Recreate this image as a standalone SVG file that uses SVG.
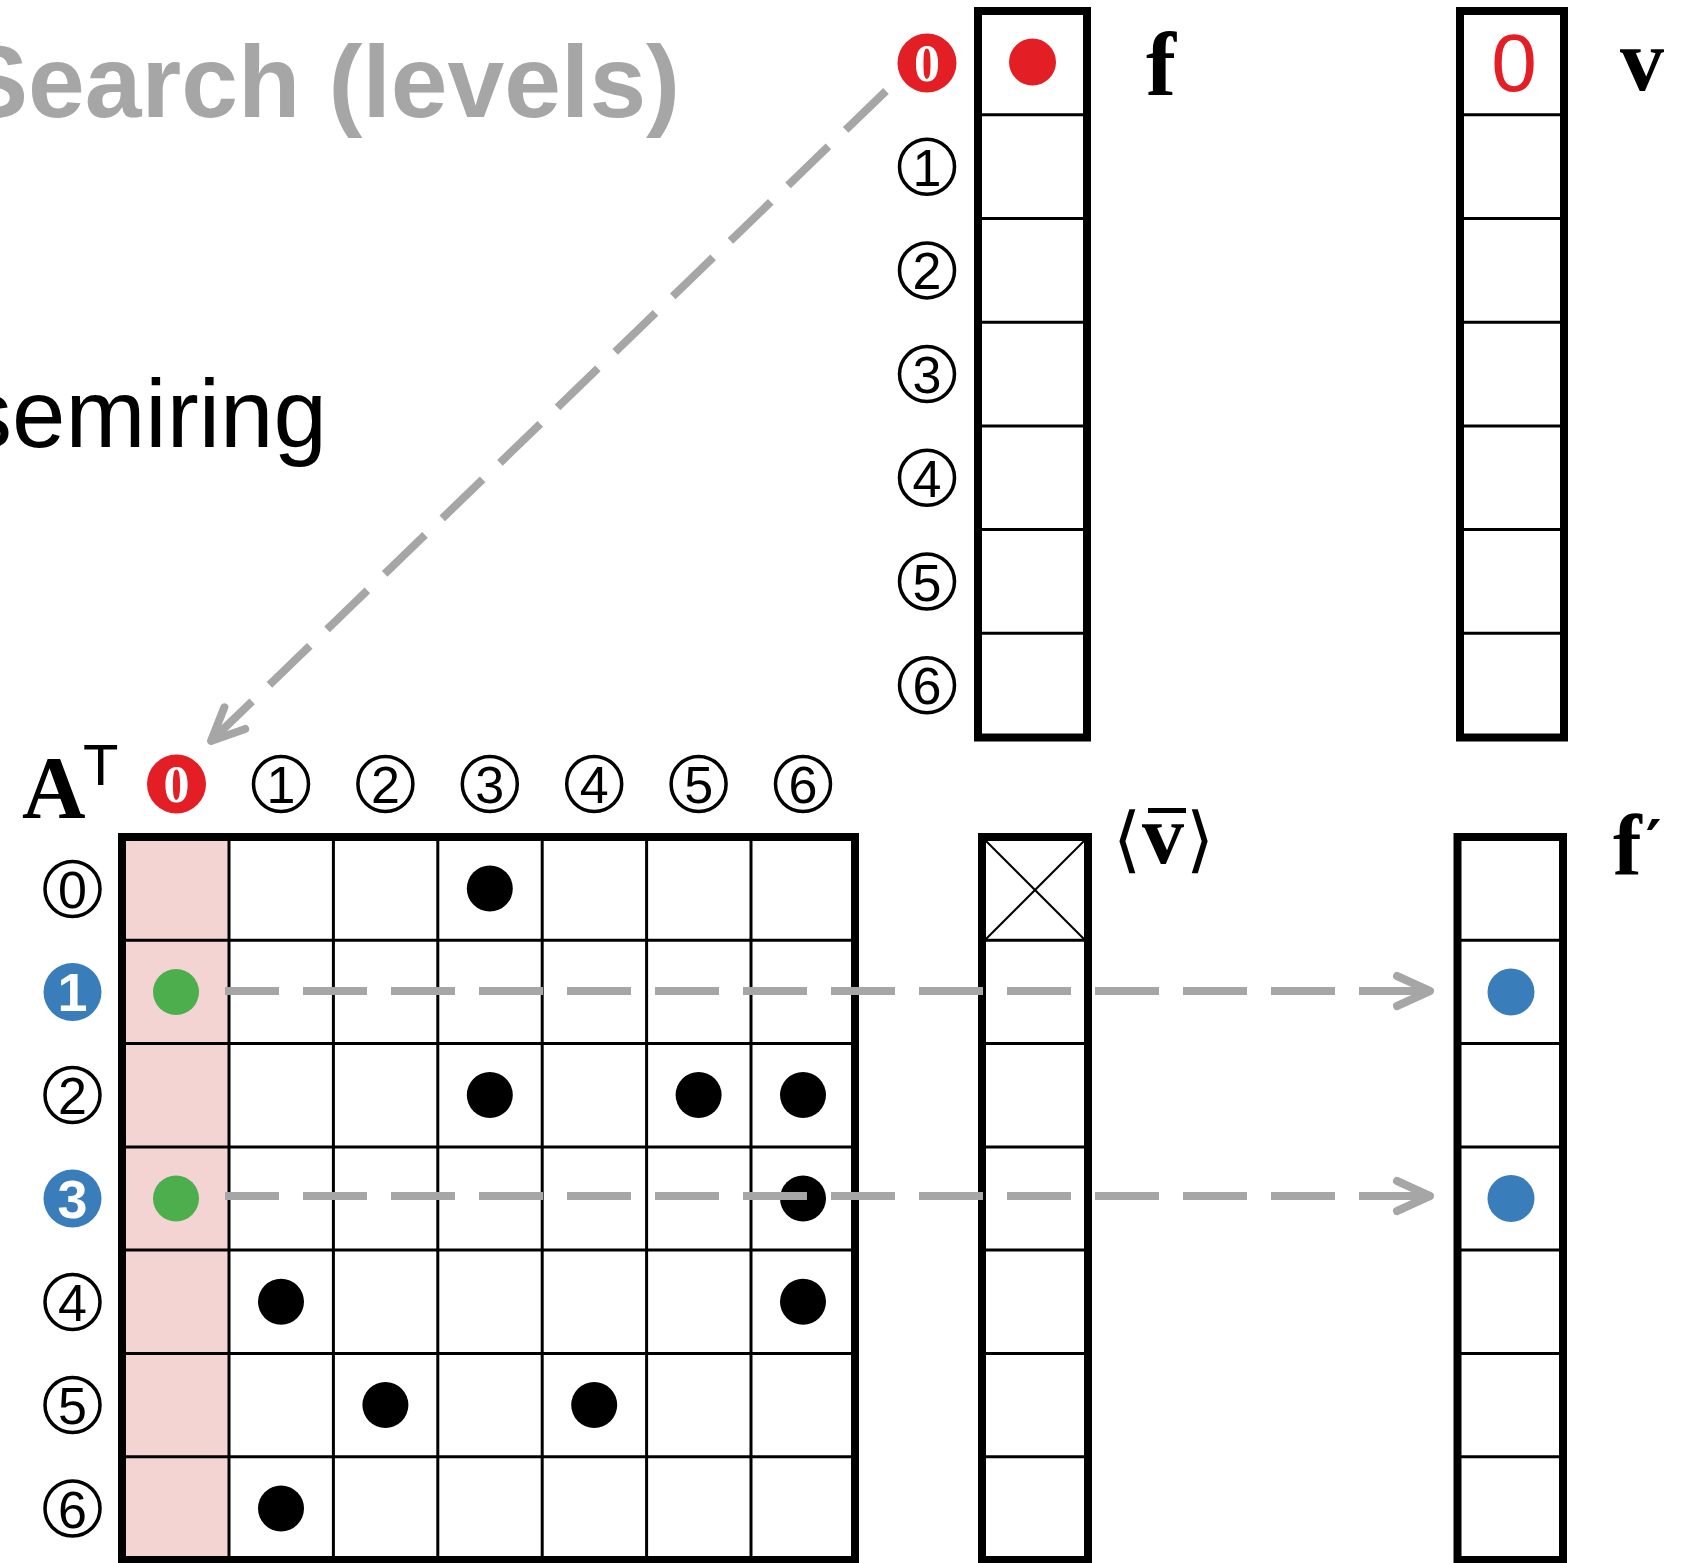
<svg xmlns="http://www.w3.org/2000/svg" width="1681" height="1563" viewBox="0 0 1681 1563">
<style>
.lbl circle{fill:#fff;stroke:#000;stroke-width:3.5}
.lbl text{font-family:"Liberation Sans",Arial,sans-serif;font-size:52px;fill:#000;text-anchor:middle}
.red circle{fill:#e31e24;stroke:none}
.red text{font-family:"Liberation Serif",serif;font-weight:bold;font-size:52px;fill:#fff;text-anchor:middle}
.blue circle{fill:#3a7dbb;stroke:none}
.blue text{font-family:"Liberation Sans",Arial,sans-serif;font-weight:bold;font-size:54px;fill:#fff;text-anchor:middle}
.box{fill:none;stroke:#000;stroke-width:8}
.div{stroke:#000;stroke-width:3}
.dot{fill:#000}
.math{font-family:"Liberation Serif","DejaVu Serif",serif;font-weight:bold;fill:#000}
.conn{fill:none;stroke:#a6a6a6;stroke-width:8}
</style>
<defs>
<marker id="chev" markerUnits="userSpaceOnUse" markerWidth="60" markerHeight="60" refX="0" refY="0" viewBox="-50 -30 60 60" orient="auto" overflow="visible">
<path d="M-33,-15 L0,0 L-33,15" fill="none" stroke="#a6a6a6" stroke-width="8" stroke-linecap="round" stroke-linejoin="round"/>
</marker>
</defs>
<rect width="1681" height="1563" fill="#fff"/>

<g id="title">
<text x="-40" y="117" font-family="Liberation Sans,Arial,sans-serif" font-weight="bold" font-size="102" fill="#a6a6a6">Search (levels)</text>
</g>
<g id="subtitle">
<text x="-36" y="447" font-family="Liberation Sans,Arial,sans-serif" font-size="96" fill="#000">semiring</text>
</g>

<g id="matrix">
<rect x="126" y="840" width="103" height="717" fill="#f4d4d2"/>
<g class="div">
<line x1="229" y1="837" x2="229" y2="1560"/>
<line x1="333.4" y1="837" x2="333.4" y2="1560"/>
<line x1="437.8" y1="837" x2="437.8" y2="1560"/>
<line x1="542.2" y1="837" x2="542.2" y2="1560"/>
<line x1="646.6" y1="837" x2="646.6" y2="1560"/>
<line x1="751" y1="837" x2="751" y2="1560"/>
<line x1="122" y1="940.3" x2="855" y2="940.3"/>
<line x1="122" y1="1043.6" x2="855" y2="1043.6"/>
<line x1="122" y1="1146.9" x2="855" y2="1146.9"/>
<line x1="122" y1="1250.1" x2="855" y2="1250.1"/>
<line x1="122" y1="1353.4" x2="855" y2="1353.4"/>
<line x1="122" y1="1456.7" x2="855" y2="1456.7"/>
</g>
<rect class="box" x="122" y="837" width="733" height="723"/>
<circle cx="176" cy="992" r="23" fill="#4cae4c"/>
<circle cx="176" cy="1198.5" r="23" fill="#4cae4c"/>
<circle class="dot" cx="489.8" cy="888.6" r="23"/>
<circle class="dot" cx="489.8" cy="1095" r="23"/>
<circle class="dot" cx="698.6" cy="1095" r="23"/>
<circle class="dot" cx="803" cy="1095" r="23"/>
<circle class="dot" cx="803" cy="1198.5" r="23"/>
<circle class="dot" cx="281" cy="1301.8" r="23"/>
<circle class="dot" cx="803" cy="1301.8" r="23"/>
<circle class="dot" cx="385.4" cy="1405" r="23"/>
<circle class="dot" cx="594.2" cy="1405" r="23"/>
<circle class="dot" cx="281" cy="1508.4" r="23"/>
</g>

<g id="matrix-label">
<text class="math" x="22" y="817" font-size="88">A</text>
<text x="83" y="785" font-family="Liberation Sans,Arial,sans-serif" font-size="58" fill="#000">T</text>
</g>

<g id="col-labels">
<g class="red"><circle cx="176.5" cy="784" r="29.5"/><text x="176.5" y="802">0</text></g>
<g class="lbl"><circle cx="281" cy="784" r="27.5"/><text x="281" y="803">1</text></g>
<g class="lbl"><circle cx="385.4" cy="784" r="27.5"/><text x="385.4" y="803">2</text></g>
<g class="lbl"><circle cx="489.8" cy="784" r="27.5"/><text x="489.8" y="803">3</text></g>
<g class="lbl"><circle cx="594.2" cy="784" r="27.5"/><text x="594.2" y="803">4</text></g>
<g class="lbl"><circle cx="698.6" cy="784" r="27.5"/><text x="698.6" y="803">5</text></g>
<g class="lbl"><circle cx="803" cy="784" r="27.5"/><text x="803" y="803">6</text></g>
</g>

<g id="row-labels">
<g class="lbl"><circle cx="72.5" cy="889" r="27.5"/><text x="72.5" y="908">0</text></g>
<g class="blue"><circle cx="72.5" cy="992" r="29"/><text x="72.5" y="1011">1</text></g>
<g class="lbl"><circle cx="72.5" cy="1095" r="27.5"/><text x="72.5" y="1114">2</text></g>
<g class="blue"><circle cx="72.5" cy="1198.5" r="29"/><text x="72.5" y="1217.5">3</text></g>
<g class="lbl"><circle cx="72.5" cy="1302" r="27.5"/><text x="72.5" y="1321">4</text></g>
<g class="lbl"><circle cx="72.5" cy="1405" r="27.5"/><text x="72.5" y="1424">5</text></g>
<g class="lbl"><circle cx="72.5" cy="1508.5" r="27.5"/><text x="72.5" y="1527.5">6</text></g>
</g>

<g id="f-labels">
<g class="red"><circle cx="927" cy="63" r="29.5"/><text x="927" y="81">0</text></g>
<g class="lbl"><circle cx="927" cy="166.7" r="27.5"/><text x="927" y="185.7">1</text></g>
<g class="lbl"><circle cx="927" cy="270.4" r="27.5"/><text x="927" y="289.4">2</text></g>
<g class="lbl"><circle cx="927" cy="374.1" r="27.5"/><text x="927" y="393.1">3</text></g>
<g class="lbl"><circle cx="927" cy="477.8" r="27.5"/><text x="927" y="496.8">4</text></g>
<g class="lbl"><circle cx="927" cy="581.5" r="27.5"/><text x="927" y="600.5">5</text></g>
<g class="lbl"><circle cx="927" cy="685.2" r="27.5"/><text x="927" y="704.2">6</text></g>
</g>

<g id="vector-f">
<g class="div">
<line x1="978" y1="114.8" x2="1087" y2="114.8"/>
<line x1="978" y1="218.5" x2="1087" y2="218.5"/>
<line x1="978" y1="322.2" x2="1087" y2="322.2"/>
<line x1="978" y1="425.9" x2="1087" y2="425.9"/>
<line x1="978" y1="529.6" x2="1087" y2="529.6"/>
<line x1="978" y1="633.3" x2="1087" y2="633.3"/>
</g>
<rect class="box" x="978" y="11" width="109" height="726.5"/>
<circle cx="1032.5" cy="62" r="23.5" fill="#e31e24"/>
<text class="math" x="1146" y="95" font-size="90">f</text>
</g>

<g id="vector-v">
<g class="div">
<line x1="1460" y1="114.8" x2="1564" y2="114.8"/>
<line x1="1460" y1="218.5" x2="1564" y2="218.5"/>
<line x1="1460" y1="322.2" x2="1564" y2="322.2"/>
<line x1="1460" y1="425.9" x2="1564" y2="425.9"/>
<line x1="1460" y1="529.6" x2="1564" y2="529.6"/>
<line x1="1460" y1="633.3" x2="1564" y2="633.3"/>
</g>
<rect class="box" x="1460" y="11" width="104" height="726.5"/>
<text x="1514" y="91" font-family="Liberation Sans,Arial,sans-serif" font-size="82" fill="#e31e24" text-anchor="middle">0</text>
<text class="math" x="1620" y="90" font-size="88">v</text>
</g>

<g id="vector-vbar">
<g class="div">
<line x1="982" y1="940.3" x2="1088" y2="940.3"/>
<line x1="982" y1="1043.6" x2="1088" y2="1043.6"/>
<line x1="982" y1="1146.9" x2="1088" y2="1146.9"/>
<line x1="982" y1="1250.1" x2="1088" y2="1250.1"/>
<line x1="982" y1="1353.4" x2="1088" y2="1353.4"/>
<line x1="982" y1="1456.7" x2="1088" y2="1456.7"/>
<line x1="986" y1="841" x2="1084" y2="939" stroke-width="2"/>
<line x1="1084" y1="841" x2="986" y2="939" stroke-width="2"/>
</g>
<rect class="box" x="982" y="837" width="106" height="723"/>
<text x="1113" y="864" font-family="DejaVu Serif,serif" font-size="72" fill="#000">⟨</text>
<text class="math" x="1142" y="863" font-size="84">v</text>
<line x1="1148" y1="810.5" x2="1186" y2="810.5" stroke="#000" stroke-width="5"/>
<text x="1186" y="864" font-family="DejaVu Serif,serif" font-size="72" fill="#000">⟩</text>
</g>

<g id="vector-fprime">
<g class="div">
<line x1="1457.5" y1="940.3" x2="1563" y2="940.3"/>
<line x1="1457.5" y1="1043.6" x2="1563" y2="1043.6"/>
<line x1="1457.5" y1="1146.9" x2="1563" y2="1146.9"/>
<line x1="1457.5" y1="1250.1" x2="1563" y2="1250.1"/>
<line x1="1457.5" y1="1353.4" x2="1563" y2="1353.4"/>
<line x1="1457.5" y1="1456.7" x2="1563" y2="1456.7"/>
</g>
<rect class="box" x="1457.5" y="837" width="105.5" height="723"/>
<circle cx="1511" cy="992" r="23.5" fill="#3a7dbb"/>
<circle cx="1511" cy="1198.5" r="23.5" fill="#3a7dbb"/>
<text class="math" x="1613" y="875" font-size="86">f<tspan font-family="DejaVu Serif,serif" font-size="60" dx="4" dy="-12">′</tspan></text>
</g>

<g id="connectors">
<line class="conn" x1="886" y1="91" x2="211" y2="741" stroke-dasharray="56 24" marker-end="url(#chev)"/>
<line class="conn" x1="225" y1="991" x2="1430" y2="991" stroke-dasharray="64 24" stroke-dashoffset="10" marker-end="url(#chev)"/>
<line class="conn" x1="225" y1="1196" x2="1430" y2="1196" stroke-dasharray="64 24" stroke-dashoffset="10" marker-end="url(#chev)"/>
</g>
</svg>
